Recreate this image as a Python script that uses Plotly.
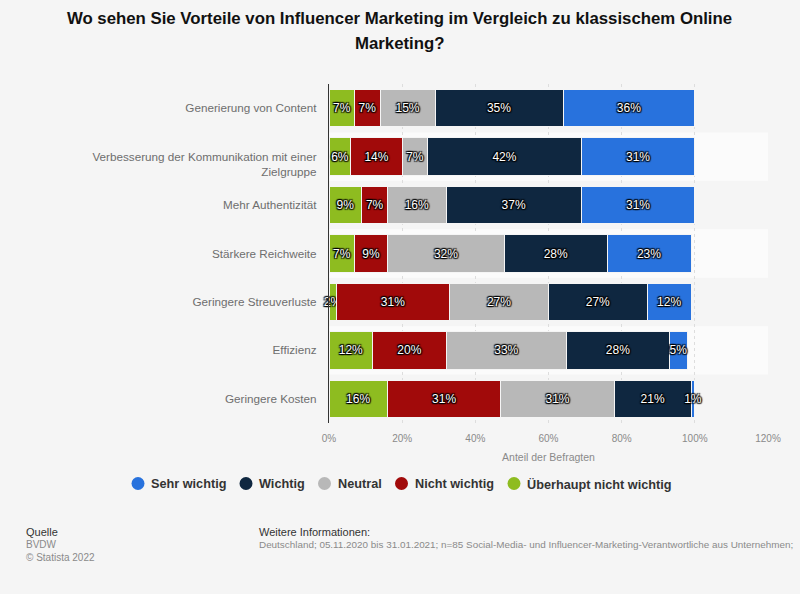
import plotly.graph_objects as go

categories = ["Generierung von Content", "Verbesserung der Kommunikation mit einer Zielgruppe",
              "Mehr Authentizität", "Stärkere Reichweite", "Geringere Streuverluste", "Effizienz", "Geringere Kosten"]
category_labels = ["Generierung von Content", "&nbsp;<br>Verbesserung der Kommunikation mit einer<br>Zielgruppe",
                   "Mehr Authentizität", "Stärkere Reichweite", "Geringere Streuverluste", "Effizienz", "Geringere Kosten"]
ueberhaupt = [7, 6, 9, 7, 2, 12, 16]
nicht = [7, 14, 7, 9, 31, 20, 31]
neutral = [15, 7, 16, 32, 27, 33, 31]
wichtig = [35, 42, 37, 28, 27, 28, 21]
sehr = [36, 31, 31, 23, 12, 5, 1]
stack_series = [("Überhaupt nicht wichtig", ueberhaupt, "#8ebc20"), ("Nicht wichtig", nicht, "#a10a0a"),
                ("Neutral", neutral, "#b8b8b8"), ("Wichtig", wichtig, "#0f2740"), ("Sehr wichtig", sehr, "#2872dd")]
x_ticks = [0, 20, 40, 60, 80, 100, 120]
legend_dot_px = [138, 246, 324.5, 401.5, 514]  # legend layout, left to right

FONT = "Liberation Sans, Arial, sans-serif"
SHADOW = "1px 1px 1px #000, -1px -1px 1px #000, 1px -1px 1px #000, -1px 1px 1px #000, 0 0 2px #000"
L, T, PW, PH = 329, 84, 439, 339
fx = lambda px: (px - L) / PW
fy = lambda py: (T + PH - py) / PH

fig = go.Figure()
for name, vals, col in stack_series:
    fig.add_trace(go.Bar(y=categories, x=vals, name=name, orientation="h", showlegend=False,
                         marker=dict(color=col, line=dict(color="#f5f5f5", width=1)),
                         text=[f"{v}%" for v in vals], textposition="inside", insidetextanchor="middle",
                         textangle=0, constraintext="none", cliponaxis=False,
                         textfont=dict(color="#ffffff", size=12, family=FONT, shadow=SHADOW)))

shapes = []
for i, c in enumerate(categories):
    if i % 2 == 1:
        shapes.append(dict(type="rect", xref="paper", x0=0, x1=1, yref="y", y0=i - 0.5, y1=i + 0.5,
                           fillcolor="#fbfbfb", line_width=0, layer="below"))


def note(text, px, py, size, color):
    return dict(text=text, xref="paper", yref="paper", x=fx(px), y=fy(py),
                xanchor="left", yanchor="middle", showarrow=False, borderpad=0, xshift=-1,
                font=dict(size=size, color=color))


notes = [
    note("Quelle", 26, 532, 11, "#333333"),
    note("BVDW", 26, 544.5, 10, "#8a8a8a"),
    note("© Statista 2022", 26, 557, 10, "#8a8a8a"),
    note("Weitere Informationen:", 259, 532, 11, "#333333"),
    note("Deutschland; 05.11.2020 bis 31.01.2021; n=85 Social-Media- und Influencer-Marketing-Verantwortliche aus Unternehmen;",
         259, 544.5, 9.9, "#8a8a8a"),
    dict(text="Marketing?", xref="paper", yref="paper", x=fx(399.5), y=fy(44), xanchor="center",
         yanchor="middle", showarrow=False, font=dict(size=16.8, color="#111111", family=FONT, weight="bold")),
]
for (name, vals, col), px in zip(reversed(stack_series), legend_dot_px):
    shapes.append(dict(type="circle", xref="paper", yref="paper", x0=fx(px - 6.5), x1=fx(px + 6.5),
                       y0=fy(483.5 + 6.5), y1=fy(483.5 - 6.5), fillcolor=col, line_width=0, layer="above"))
    notes.append(dict(text=name, xref="paper", yref="paper", x=fx(px + 13), y=fy(484), xanchor="left",
                      yanchor="middle", showarrow=False, borderpad=0, xshift=-1,
                      font=dict(size=12.7, color="#333333", family=FONT, weight="bold")))

fig.update_layout(
    width=800, height=594, autosize=False, paper_bgcolor="#f5f5f5", plot_bgcolor="rgba(0,0,0,0)",
    margin=dict(l=L, r=800 - L - PW, t=T, b=594 - T - PH), barmode="stack", bargap=0.225, shapes=shapes,
    font=dict(family=FONT), annotations=notes, showlegend=False,
    title=dict(text="Wo sehen Sie Vorteile von Influencer Marketing im Vergleich zu klassischem Online",
               x=399.5 / 800, xanchor="center", y=1 - 18 / 594, yanchor="middle",
               font=dict(size=16.8, color="#111111", family=FONT, weight="bold")),
    xaxis=dict(range=[0, 120], tickvals=x_ticks, ticktext=[f"{t}%" for t in x_ticks], showgrid=True,
               gridcolor="#dddddd", griddash="dot", gridwidth=1, zeroline=False, showline=False, ticks="",
               tickfont=dict(size=10, color="#8a8a8a"), ticklabelstandoff=8,
               title=dict(text="Anteil der Befragten", font=dict(size=10.5, color="#8a8a8a"), standoff=10)),
    yaxis=dict(autorange="reversed", tickvals=categories, ticktext=category_labels, showgrid=False, zeroline=False,
               showline=True, linecolor="#333333", linewidth=1.2, ticks="", ticklabelstandoff=9,
               tickfont=dict(size=11.7, color="#6e6e6e")),
)
fig.write_html("out.html", config=dict(displayModeBar=False),
               post_script="document.body.style.margin='0';")
